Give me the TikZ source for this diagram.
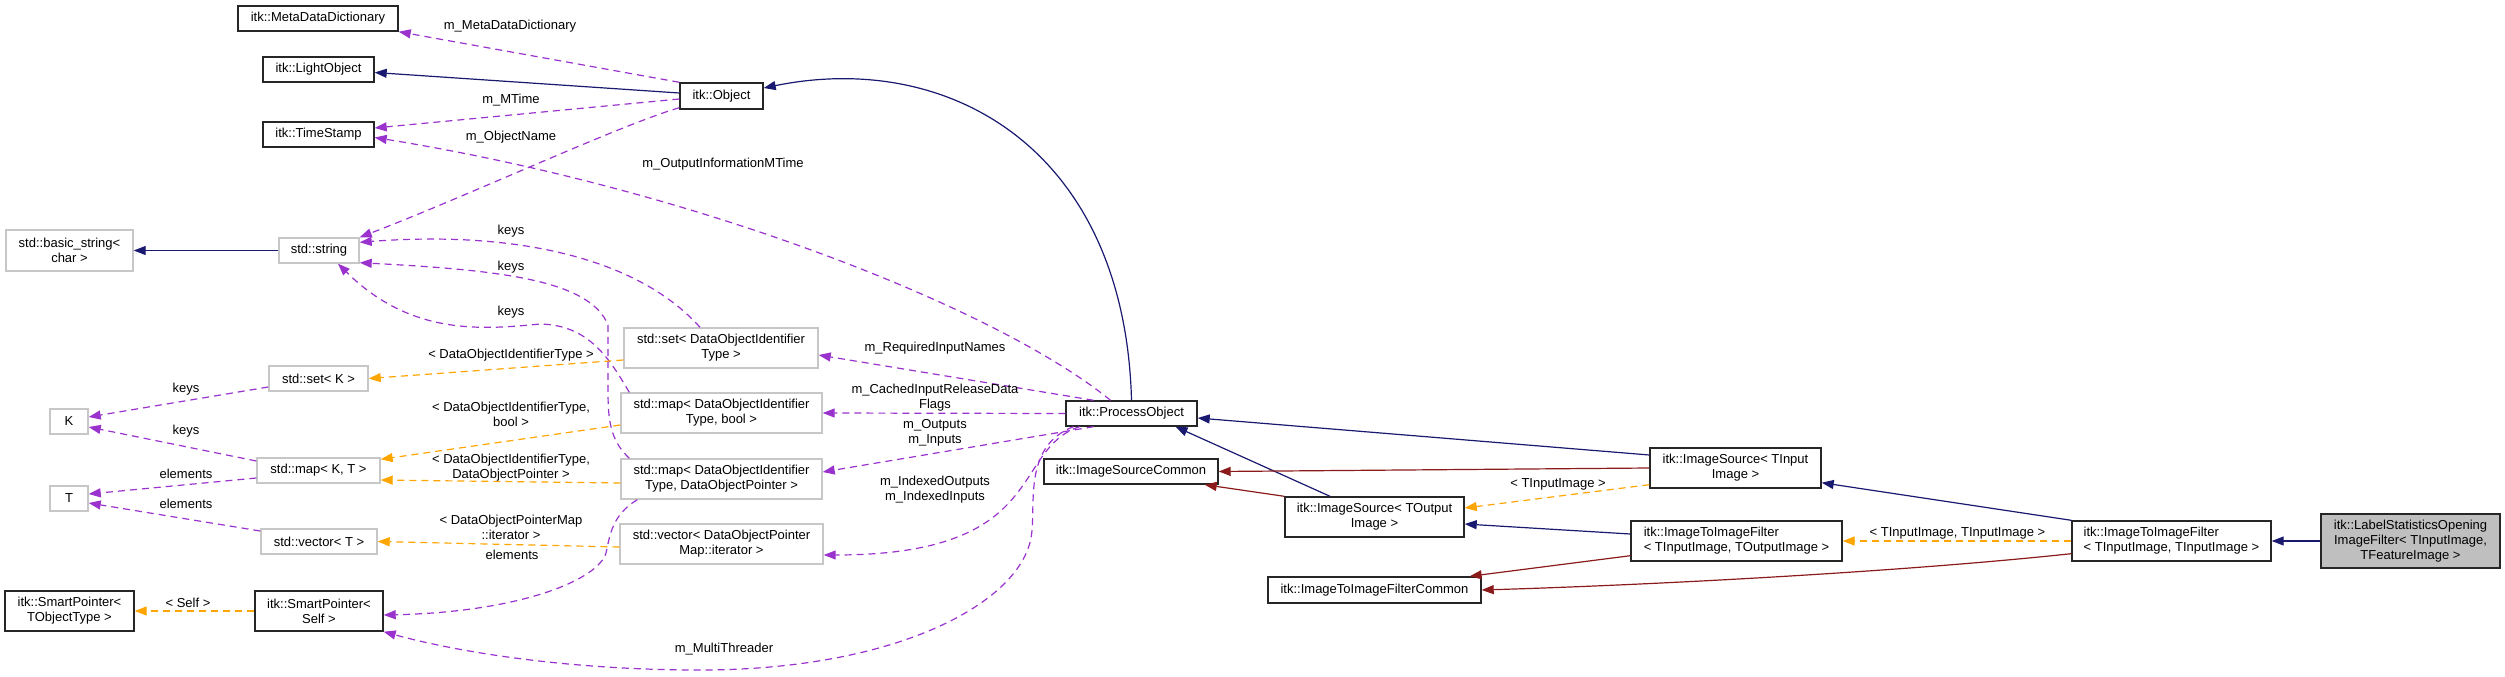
\documentclass[tikz,border=0pt]{standalone}
\usepackage{fontspec}
\setmainfont{Liberation Sans}
\usetikzlibrary{arrows.meta, calc}
\definecolor{edgeblue}{RGB}{25,25,112}
\definecolor{edgered}{RGB}{139,26,26}
\definecolor{edgeviolet}{RGB}{154,50,205}
\definecolor{edgeorange}{RGB}{255,165,0}
\definecolor{boxgray}{RGB}{191,191,191}
\tikzset{
  cls/.style={draw=black!85, line width=1.4pt, inner sep=0pt, align=center,
    font=\fontsize{13}{15}\selectfont},
  extcls/.style={cls, draw=black!22},
  focus/.style={cls, fill=boxgray},
  elbl/.style={font=\fontsize{13}{15}\selectfont, align=center, inner sep=0pt},
  inh/.style={edgeblue, line width=1.2pt, -{Triangle[length=12pt,width=9pt]}},
  priv/.style={inh, edgered},
  usedge/.style={edgeviolet, line width=1.2pt, dash pattern=on 7pt off 5pt,
    -{Triangle[length=12pt,width=9pt]}},
  tmpl/.style={usedge, edgeorange},
}

\begin{document}
\begin{tikzpicture}[x=1pt, y=-1pt]
    \useasboundingbox (0,0) rectangle (2505,677);

    %% Left column: itk base classes
    \node[cls, minimum width=160pt, minimum height=25pt] (mdd) at (318,18.5) {itk::MetaDataDictionary};
    \node[cls, minimum width=111pt, minimum height=25pt] (lobj) at (318.5,69.5) {itk::LightObject};
    \node[cls, minimum width=111pt, minimum height=25pt] (tstamp) at (318.5,134.5) {itk::TimeStamp};
    \node[cls, minimum width=83pt, minimum height=26pt] (obj) at (721.5,96) {itk::Object};

    %% std containers and template parameters
    \node[extcls, minimum width=127pt, minimum height=41pt] (bstr) at (69.5,250.5) {std::basic\_string<\\char >};
    \node[extcls, minimum width=80pt, minimum height=25pt] (str) at (319,250.5) {std::string};
    \node[extcls, minimum width=99pt, minimum height=25pt] (setK) at (318.5,378.5) {std::set< K >};
    \node[extcls, minimum width=38pt, minimum height=25pt] (K) at (69,421.5) {K};
    \node[extcls, minimum width=123pt, minimum height=25pt] (mapKT) at (318.5,470.5) {std::map< K, T >};
    \node[extcls, minimum width=38pt, minimum height=25pt] (T) at (69,498.5) {T};
    \node[extcls, minimum width=116pt, minimum height=25pt] (vecT) at (319,541.5) {std::vector< T >};
    \node[cls, minimum width=129pt, minimum height=40pt] (spTO) at (69.5,611) {itk::SmartPointer<\\TObjectType >};
    \node[cls, minimum width=128pt, minimum height=40pt] (spSelf) at (319,611) {itk::SmartPointer<\\Self >};

    \node[extcls, minimum width=194pt, minimum height=40pt] (setDOIT) at (721,348) {std::set< DataObjectIdentifier\\Type >};
    \node[extcls, minimum width=201pt, minimum height=40pt] (mapDOITb) at (721.5,413) {std::map< DataObjectIdentifier\\Type, bool >};
    \node[extcls, minimum width=201pt, minimum height=40pt] (mapDOITp) at (721.5,479) {std::map< DataObjectIdentifier\\Type, DataObjectPointer >};
    \node[extcls, minimum width=203pt, minimum height=40pt] (vecDOP) at (721.5,544) {std::vector< DataObjectPointer\\Map::iterator >};

    %% Filter hierarchy
    \node[cls, minimum width=131pt, minimum height=25pt] (pobj) at (1131.5,413.5) {itk::ProcessObject};
    \node[cls, minimum width=174pt, minimum height=25pt] (isc) at (1131,471.5) {itk::ImageSourceCommon};
    \node[cls, minimum width=179pt, minimum height=40pt] (isOut) at (1374.5,517) {itk::ImageSource< TOutput\\Image >};
    \node[cls, minimum width=213pt, minimum height=26pt] (i2iC) at (1374.5,590) {itk::ImageToImageFilterCommon};
    \node[cls, minimum width=171pt, minimum height=40pt] (isIn) at (1735.5,468) {itk::ImageSource< TInput\\Image >};
    \node[cls, align=left, minimum width=211pt, minimum height=40pt] (i2iOut) at (1736.5,541) {itk::ImageToImageFilter\\< TInputImage, TOutputImage >};
    \node[cls, align=left, minimum width=199pt, minimum height=40pt] (i2iIn) at (2171.5,541) {itk::ImageToImageFilter\\< TInputImage, TInputImage >};
    \node[focus, minimum width=179pt, minimum height=54pt] (lsof) at (2410.5,541) {itk::LabelStatisticsOpening\\ImageFilter< TInputImage,\\TFeatureImage >};

    %% Public inheritance
    \draw[inh] ([yshift=3pt]obj.west) -- ([yshift=-3pt]lobj.east);
    \draw[inh] (pobj.north) .. controls (1125,150) and (950,50) .. ([yshift=8pt]obj.east);
    \draw[inh] (str.west) -- (bstr.east);
    \draw[inh] ([xshift=-44.5pt]isOut.north) -- ([xshift=44pt]pobj.south);
    \draw[inh] ([yshift=13pt]isIn.west) -- ([yshift=-4.5pt]pobj.east);
    \draw[inh] ([yshift=7pt]i2iOut.west) -- ([yshift=-7pt]isOut.east);
    \draw[inh] (i2iIn.north west) -- ([yshift=6pt]isIn.south east);
    \draw[inh] (lsof.west) -- (i2iIn.east);

    %% Private inheritance
    \draw[priv] (isIn.west) -- (isc.east);
    \draw[priv] (isOut.north west) -- ([xshift=-14pt]isc.south east);
    \draw[priv] ([yshift=6pt]i2iOut.south west) -- ([xshift=-12pt]i2iC.north east);
    \draw[priv] ([yshift=8pt]i2iIn.south west) .. controls (1900,572) and (1650,585) .. (i2iC.east);

    %% Members of itk::Object
    \draw[usedge] (obj.north west) -- (mdd.south east);
    \draw[usedge] ([yshift=-3pt]obj.west) -- ([yshift=6.5pt]tstamp.east);
    \draw[usedge] ([yshift=2pt]obj.south west) .. controls (620,125) and (470,195) .. (str.north east);
    \node[elbl] (lmdd) at (510,26) {m\_MetaDataDictionary};
    \node[elbl] (lmtime) at (511,100) {m\_MTime};
    \node[elbl] (lname) at (511,137) {m\_ObjectName};

    %% Members of itk::ProcessObject
    \draw[usedge] ([xshift=-21pt]pobj.north) .. controls (1000,310) and (700,190) .. ([yshift=-3pt]tstamp.east);
    \draw[usedge] ([xshift=-38pt]pobj.north) -- ([yshift=-7pt]setDOIT.east);
    \draw[usedge] (pobj.west) -- (mapDOITb.east);
    \draw[usedge] ([xshift=-38pt]pobj.south) -- ([yshift=7pt]mapDOITp.east);
    \draw[usedge] ([xshift=-52pt]pobj.south) .. controls (1010,450) and (1050,555) .. ([yshift=-11pt]vecDOP.east);
    \draw[usedge] ([xshift=-58pt]pobj.south) .. controls (1025,445) and (1035,500) .. (1032,530)
      .. controls (1028,600) and (900,670) .. (700,670)
      .. controls (560,670) and (450,650) .. (spSelf.south east);
    \node[elbl] (loutmt) at (723,164) {m\_OutputInformationMTime};
    \node[elbl] (lreq) at (935,348) {m\_RequiredInputNames};
    \node[elbl] (lcache) at (935,397.5) {m\_CachedInputReleaseData\\Flags};
    \node[elbl] (lio) at (935,432.5) {m\_Outputs\\m\_Inputs};
    \node[elbl] (lidx) at (935,490) {m\_IndexedOutputs\\m\_IndexedInputs};
    \node[elbl] (lmt) at (724,649) {m\_MultiThreader};

    %% Container keys and elements
    \draw[usedge] ([xshift=-21pt]setDOIT.north) .. controls (640,260) and (520,230) .. ([yshift=-5pt]str.north east);
    \draw[usedge] ([xshift=9pt]mapDOITp.north west) .. controls (610,440) and (608,420) .. (608,390)
      -- (608,325) .. controls (590,280) and (500,270) .. ([yshift=1pt]str.south east);
    \draw[usedge] ([xshift=9pt]mapDOITb.north west) .. controls (610,360) and (590,325) .. (540,324)
      .. controls (480,330) and (410,335) .. ([xshift=19pt]str.south);
    \draw[usedge] ([xshift=17pt]mapDOITp.south west) .. controls (612,515) and (610,535) .. (606,553)
      .. controls (598,580) and (520,612) .. ([yshift=-4pt]spSelf.east);
    \node[elbl] (lkeys1) at (511,231) {keys};
    \node[elbl] (lkeys2) at (511,267) {keys};
    \node[elbl] (lkeys3) at (511,312) {keys};
    \node[elbl] (lelem1) at (512,555) {elements};

    \draw[usedge] ([yshift=-8.5pt]setK.west) -- ([yshift=4.5pt]K.east);
    \draw[usedge] ([yshift=9.5pt]mapKT.west) -- ([yshift=-5.5pt]K.east);
    \draw[usedge] ([yshift=-7.5pt]mapKT.west) -- ([yshift=4.5pt]T.east);
    \draw[usedge] ([yshift=10.5pt]vecT.west) -- ([yshift=-4.5pt]T.east);
    \node[elbl] (lkeysK1) at (186,389) {keys};
    \node[elbl] (lkeysK2) at (186,431) {keys};
    \node[elbl] (lelemT1) at (186,474) {elements};
    \node[elbl] (lelemT2) at (186,504) {elements};

    %% Template instances
    \draw[tmpl] ([yshift=-12pt]setDOIT.west) -- (setK.east);
    \draw[tmpl] ([yshift=-12pt]mapDOITb.west) -- ([yshift=-2pt]mapKT.north east);
    \draw[tmpl] ([yshift=-4pt]mapDOITp.west) -- ([yshift=-9.5pt]mapKT.east);
    \draw[tmpl] ([yshift=-3pt]vecDOP.west) -- (vecT.east);
    \draw[tmpl] (spSelf.west) -- (spTO.east);
    \draw[tmpl] ([yshift=4pt]isIn.south west) -- ([yshift=9pt]isOut.east);
    \draw[tmpl] (i2iIn.west) -- (i2iOut.east);
    \node[elbl] (lt1) at (511,355) {< DataObjectIdentifierType >};
    \node[elbl] (lt2) at (511,414) {< DataObjectIdentifierType,\\bool >};
    \node[elbl] (lt3) at (511,467.5) {< DataObjectIdentifierType,\\DataObjectPointer >};
    \node[elbl] (lt4) at (511,527) {< DataObjectPointerMap\\::iterator >};
    \node[elbl] (lt5) at (188,603) {< Self >};
    \node[elbl] (lt6) at (1558,484) {< TInputImage >};
    \node[elbl] (lt7) at (1957.5,533) {< TInputImage, TInputImage >};
\end{tikzpicture}
\end{document}
